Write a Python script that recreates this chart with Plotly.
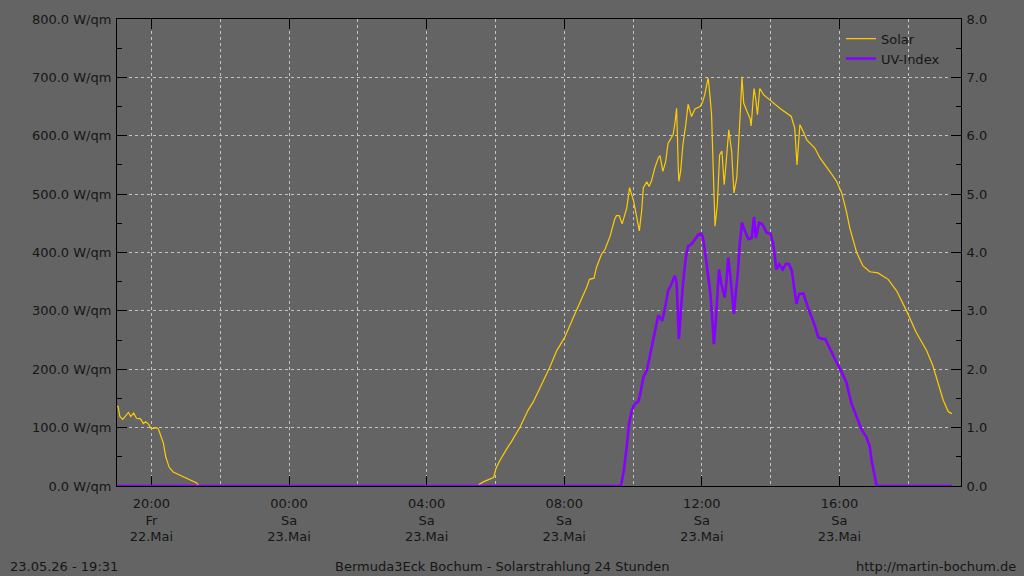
import datetime as dt
import plotly.graph_objects as go

# ---------------- data ----------------
start_day = "2026-05-22"

solar_time = ["19:00", "19:02", "19:05", "19:10", "19:14", "19:20", "19:24", "19:29", "19:34", "19:41",
              "19:46", "19:50", "19:55", "20:00", "20:09", "20:12", "20:15", "20:21", "20:25", "20:31",
              "20:38", "20:47", "20:55", "21:04", "21:13", "21:19", "21:23", "05:30", "05:32", "05:39",
              "05:53", "05:57", "06:01", "06:08", "06:20", "06:28", "06:43", "06:57", "07:06", "07:18",
              "07:35", "07:47", "08:01", "08:16", "08:27", "08:39", "08:44", "08:52", "08:56", "09:05",
              "09:11", "09:20", "09:28", "09:31", "09:36", "09:41", "09:49", "09:54", "10:01", "10:11",
              "10:15", "10:18", "10:24", "10:28", "10:32", "10:38", "10:44", "10:47", "10:52", "10:57",
              "11:01", "11:10", "11:13", "11:16", "11:19", "11:20", "11:23", "11:27", "11:32", "11:36",
              "11:42", "11:48", "11:57", "12:01", "12:05", "12:09", "12:11", "12:14", "12:17", "12:20",
              "12:23", "12:27", "12:31", "12:35", "12:39", "12:43", "12:47", "12:52", "12:56", "13:01",
              "13:05", "13:08", "13:10", "13:13", "13:19", "13:24", "13:26", "13:31", "13:34", "13:37",
              "13:41", "13:48", "13:59", "14:16", "14:36", "14:42", "14:46", "14:51", "14:57", "15:03",
              "15:17", "15:26", "15:43", "15:55", "16:04", "16:12", "16:18", "16:30", "16:41", "16:53",
              "17:07", "17:25", "17:40", "17:57", "18:14", "18:32", "18:43", "18:52", "19:01", "19:10",
              "19:16"]
solar_value = [137, 136, 119, 114, 119, 126, 119, 125, 116, 115,
               107, 110, 106, 98, 100, 98, 90, 73, 50, 32,
               24, 20, 17, 13, 9, 5, 0, 0, 3, 7,
               13, 15, 30, 44, 64, 76, 101, 130, 144, 169,
               204, 232, 255, 289, 312, 340, 354, 356, 374, 397,
               405, 428, 457, 463, 463, 449, 476, 511, 488, 437,
               471, 511, 521, 513, 522, 545, 562, 566, 539, 556,
               587, 602, 621, 647, 542, 522, 539, 585, 619, 654,
               633, 646, 650, 657, 670, 687, 699, 670, 636, 539,
               445, 482, 567, 574, 516, 562, 610, 573, 502, 528,
               593, 658, 701, 656, 641, 630, 617, 681, 663, 636,
               681, 670, 661, 647, 633, 613, 550, 619, 607, 593,
               579, 562, 539, 522, 502, 471, 442, 400, 377, 367,
               365, 354, 334, 300, 263, 232, 206, 175, 147, 127,
               124]

uv_time = ["19:00", "09:38", "09:40", "09:44", "09:49", "09:53", "09:58", "10:03", "10:09", "10:12",
           "10:18", "10:24", "10:29", "10:35", "10:40", "10:44", "10:47", "10:51", "10:56", "11:01",
           "11:07", "11:13", "11:16", "11:18", "11:20", "11:23", "11:27", "11:32", "11:36", "11:42",
           "11:48", "11:54", "11:59", "12:02", "12:07", "12:11", "12:15", "12:19", "12:21", "12:24",
           "12:27", "12:30", "12:34", "12:40", "12:43", "12:46", "12:50", "12:54", "12:56", "12:59",
           "13:03", "13:06", "13:10", "13:15", "13:21", "13:27", "13:31", "13:34", "13:40", "13:46",
           "13:53", "14:00", "14:04", "14:07", "14:10", "14:15", "14:21", "14:27", "14:32", "14:37",
           "14:40", "14:45", "14:50", "14:57", "15:05", "15:11", "15:17", "15:23", "15:29", "15:35",
           "15:43", "15:55", "16:04", "16:12", "16:21", "16:30", "16:39", "16:47", "16:53", "16:56",
           "17:00", "17:05", "19:16"]
uv_value = [0, 0, 0.05, 0.27, 0.67, 1.07, 1.30, 1.41, 1.44, 1.55,
            1.86, 1.98, 2.21, 2.49, 2.72, 2.92, 2.89, 2.83, 3.06, 3.34,
            3.46, 3.60, 3.48, 3.06, 2.52, 2.95, 3.46, 3.91, 4.11, 4.14,
            4.23, 4.31, 4.32, 4.25, 3.91, 3.63, 3.29, 2.75, 2.43, 2.78,
            3.23, 3.71, 3.46, 3.23, 3.51, 3.91, 3.57, 3.17, 2.95, 3.29,
            3.68, 4.14, 4.51, 4.37, 4.23, 4.25, 4.61, 4.25, 4.51, 4.48,
            4.34, 4.32, 4.17, 3.97, 3.71, 3.80, 3.71, 3.81, 3.80, 3.68,
            3.46, 3.12, 3.29, 3.30, 3.06, 2.92, 2.75, 2.55, 2.52, 2.52,
            2.35, 2.12, 1.95, 1.78, 1.41, 1.18, 0.96, 0.84, 0.67, 0.44,
            0.22, 0, 0]

x_tick_vals = ["2026-05-22 20:00", "2026-05-23 00:00", "2026-05-23 04:00",
               "2026-05-23 08:00", "2026-05-23 12:00", "2026-05-23 16:00"]
x_tick_text = ["20:00<br>Fr<br>22.Mai", "00:00<br>Sa<br>23.Mai", "04:00<br>Sa<br>23.Mai",
               "08:00<br>Sa<br>23.Mai", "12:00<br>Sa<br>23.Mai", "16:00<br>Sa<br>23.Mai"]
y_tick_vals = [0, 100, 200, 300, 400, 500, 600, 700, 800]
y_tick_text = ["%.1f W/qm" % v for v in y_tick_vals]
y2_tick_vals = [0, 1, 2, 3, 4, 5, 6, 7, 8]

x_range = ["2026-05-22 19:00", "2026-05-23 19:32"]


def to_datetimes(times):
    day = dt.datetime.strptime(start_day, "%Y-%m-%d")
    out, prev = [], None
    for t in times:
        h, m = map(int, t.split(":"))
        cur = day + dt.timedelta(hours=h, minutes=m)
        if prev is not None and cur < prev:
            day += dt.timedelta(days=1)
            cur += dt.timedelta(days=1)
        out.append(cur)
        prev = cur
    return out


BG = "#646464"
TXT = "#161616"
GRID = "#c4c4c4"
FONT = "DejaVu Sans"

fig = go.Figure()
fig.add_trace(go.Scatter(x=to_datetimes(solar_time), y=solar_value, name="Solar", mode="lines",
                         line=dict(color="#FFCC00", width=1.2), yaxis="y"))
fig.add_trace(go.Scatter(x=to_datetimes(uv_time), y=uv_value, name="UV-Index", mode="lines",
                         line=dict(color="#8800FF", width=2.6), yaxis="y2"))

fig.update_layout(
    width=1024, height=576,
    margin=dict(l=117, r=63, t=17, b=90),
    paper_bgcolor=BG, plot_bgcolor=BG,
    font=dict(family=FONT, size=13, color=TXT),
    showlegend=True,
    legend=dict(x=0.981, y=0.99, xanchor="right", yanchor="top", bgcolor="rgba(0,0,0,0)",
                font=dict(family=FONT, size=13, color=TXT), tracegroupgap=0),
    xaxis=dict(type="date", range=x_range, tickmode="array", tickvals=x_tick_vals, ticktext=x_tick_text,
               ticks="inside", ticklen=10, tickcolor="black", tickwidth=1,
               showline=True, linecolor="black", linewidth=1, mirror="ticks",
               showgrid=True, gridcolor=GRID, griddash="3px,3px", gridwidth=1,
               minor=dict(dtick=2 * 3600 * 1000, tick0="2026-05-22 20:00", showgrid=True,
                          gridcolor=GRID, griddash="3px,3px", ticks=""),
               zeroline=False, layer="below traces", ticklabelstandoff=5),
    yaxis=dict(range=[0, 800], tickmode="array", tickvals=y_tick_vals, ticktext=y_tick_text,
               ticks="inside", ticklen=10, tickcolor="black",
               showline=True, linecolor="black", linewidth=1,
               showgrid=True, gridcolor=GRID, griddash="3px,3px", gridwidth=1,
               minor=dict(dtick=50, ticks="inside", ticklen=5, tickcolor="black", showgrid=False),
               zeroline=False, fixedrange=True, ticklabelstandoff=2),
    yaxis2=dict(range=[0, 8], overlaying="y", side="right", tickmode="array", tickvals=y2_tick_vals,
                tickformat=".1f", ticks="inside", ticklen=10, tickcolor="black",
                showline=True, linecolor="black", linewidth=1, showgrid=False,
                minor=dict(dtick=0.5, ticks="inside", ticklen=5, tickcolor="black", showgrid=False),
                zeroline=False, ticklabelstandoff=2),
)

footer_y = -0.173
fig.add_annotation(text="23.05.26 - 19:31", xref="paper", yref="paper", x=-0.129, y=footer_y,
                   xanchor="left", yanchor="middle", showarrow=False)
fig.add_annotation(text="Bermuda3Eck Bochum - Solarstrahlung 24 Stunden", xref="paper", yref="paper",
                   x=0.457, y=footer_y, xanchor="center", yanchor="middle", showarrow=False)
fig.add_annotation(text="http://martin-bochum.de", xref="paper", yref="paper", x=1.0675, y=footer_y,
                   xanchor="right", yanchor="middle", showarrow=False)

fig.write_html("out.html",
               config={"displayModeBar": False},
               post_script="document.body.style.margin='0';document.body.style.overflow='hidden';"
                           "document.body.style.background='%s';" % BG)
